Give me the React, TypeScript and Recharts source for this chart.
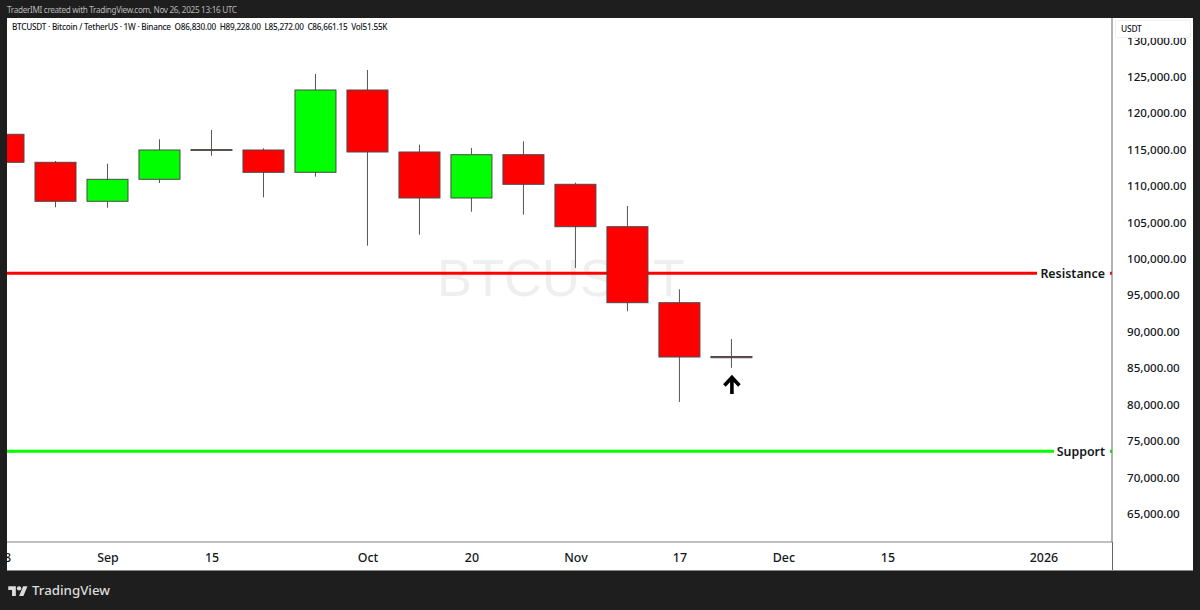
import React from 'react'
import {
  ComposedChart,
  Bar,
  XAxis,
  YAxis,
  ReferenceLine,
  ReferenceDot,
} from 'recharts'

// weekly candles, Aug 18 -> Nov 24
const opens = [117339, 113494, 108140, 111160, 115240, 115183, 112121, 123421, 114909, 108593, 114538, 110474, 104652, 94217, 86830]
const closes = [113494, 108140, 111160, 115183, 115130, 112121, 123421, 114909, 108593, 114538, 110474, 104652, 94217, 86762, 86661]
const highs = [117600, 113673, 113302, 116652, 117929, 115417, 125618, 126167, 115911, 115458, 116378, 110693, 107494, 96057, 89228]
const lows = [113200, 107316, 107261, 110652, 114401, 108689, 111517, 102044, 103554, 106712, 106300, 98982, 93037, 80584, 85272]

const xTicks = [0, 2, 4, 7, 9, 11, 13, 15, 17, 20]
const xLabels = ['18', 'Sep', '15', 'Oct', '20', 'Nov', '17', 'Dec', '15', '2026']
const yTicks = [65000, 70000, 75000, 80000, 85000, 90000, 95000, 100000, 105000, 110000, 115000, 120000, 125000, 130000]

const RESISTANCE = 98254
const SUPPORT = 73815
const ARROW_PRICE = 83000
const ARROW_INDEX = 14

const candles = opens.map((open, i) => ({
  index: i,
  open,
  close: closes[i],
  high: highs[i],
  low: lows[i],
  range: [lows[i], highs[i]],
}))

const FONT = '"Noto Sans", sans-serif'

function Candle(props: any) {
  const { x, y, width, height, payload } = props
  const { open, close, high, low } = payload
  const toY = (v: number) => y + ((high - v) / (high - low)) * height
  const up = close >= open
  const top = toY(Math.max(open, close))
  const bottom = toY(Math.min(open, close))
  const mid = x + width / 2
  return (
    <g>
      <line x1={mid} x2={mid} y1={y} y2={y + height} stroke="#555" strokeWidth={1} />
      <rect
        x={x}
        y={top}
        width={width}
        height={Math.max(bottom - top, 0.5)}
        fill={up ? '#00ff00' : '#ff0000'}
        stroke="#4a4a4a"
        strokeWidth={1}
      />
    </g>
  )
}

function PriceTick({ x, y, payload }: any) {
  return (
    <text x={x} y={y + 2.5} fontFamily={FONT} fontSize={11.6} fontWeight={500} fill="#131722">
      {payload.value.toLocaleString('en-US', { minimumFractionDigits: 2 })}
    </text>
  )
}

function lineTag(text: string, boxWidth: number) {
  return ({ viewBox }: any) => {
    const right = viewBox.x + viewBox.width
    return (
      <g>
        <rect x={right - boxWidth - 2} y={viewBox.y - 9} width={boxWidth} height={18} fill="#fff" />
        <text
          x={right - 7}
          y={viewBox.y + 5}
          textAnchor="end"
          fontFamily={FONT}
          fontSize={12.4}
          fontWeight={600}
          fill="#131722"
        >
          {text}
        </text>
      </g>
    )
  }
}

function UpArrow({ cx, cy }: any) {
  return (
    <path
      d={`M${cx} ${cy + 9.5}L${cx} ${cy - 7}M${cx - 7.5} ${cy + 1}L${cx} ${cy - 7}L${cx + 7.5} ${cy + 1}`}
      fill="none"
      stroke="#000"
      strokeWidth={3.6}
    />
  )
}

function Logo() {
  return (
    <svg width={20} height={13} viewBox="0 0 36 24" style={{ position: 'absolute', left: 8, top: 584 }}>
      <path d="M14 22H7V11H0V4h14v18zM28 22h-8l7.5-18h8L28 22z" fill="#dcdcdc" />
      <circle cx="20" cy="8" r="4" fill="#dcdcdc" />
    </svg>
  )
}

export default function App() {
  return (
    <div style={{ position: 'fixed', left: 0, top: 0, width: 1200, height: 610, background: '#1e1e1e', overflow: 'hidden' }}>
      <div style={{ position: 'absolute', left: 7, top: 3, fontFamily: FONT, fontSize: 8.2, letterSpacing: -0.33, lineHeight: '13px', color: '#b8b8b8', whiteSpace: 'nowrap' }}>
        TraderIMI created with TradingView.com, Nov 26, 2025 13:16 UTC
      </div>

      <div style={{ position: 'absolute', left: 7, top: 18, width: 1186, height: 552, background: '#fff', overflow: 'hidden', borderBottom: '1px solid #888', boxSizing: 'content-box' }}>
        {/* watermark sits under the transparent chart */}
        <div style={{ position: 'absolute', left: 430, top: 229, fontFamily: '"Liberation Sans", sans-serif', fontSize: 52.5, color: '#efefef', whiteSpace: 'nowrap' }}>
          BTCUSDT
        </div>

        {/* plot starts left of the panel so the first candle gets cut like on TV */}
        <div style={{ position: 'absolute', left: -29, top: 0 }}>
          <ComposedChart
            width={1215}
            height={552}
            data={candles}
            margin={{ top: 0, right: 0, bottom: 0, left: 0 }}
          >
            <XAxis
              dataKey="index"
              type="number"
              domain={[-0.5, 21.31]}
              allowDataOverflow
              ticks={xTicks}
              interval={0}
              tickFormatter={(v: number) => xLabels[xTicks.indexOf(v)]}
              tickLine={false}
              axisLine={{ stroke: '#808080' }}
              height={28}
              tickMargin={5}
              tick={{ fontFamily: FONT, fontSize: 12.4, fontWeight: 500, fill: '#131722' }}
            />
            <YAxis
              orientation="right"
              type="number"
              domain={[61361, 133307]}
              allowDataOverflow
              ticks={yTicks}
              interval={0}
              width={81}
              tickLine={false}
              axisLine={{ stroke: '#666' }}
              tickMargin={9}
              tick={<PriceTick />}
            />
            <ReferenceLine y={RESISTANCE} stroke="#ff0000" strokeWidth={3} zIndex={100} label={{ content: lineTag('Resistance', 73) }} />
            <ReferenceLine y={SUPPORT} stroke="#00ff00" strokeWidth={3} zIndex={100} label={{ content: lineTag('Support', 56) }} />
            <Bar dataKey="range" barSize={41} shape={<Candle />} isAnimationActive={false} />
            <ReferenceDot x={ARROW_INDEX} y={ARROW_PRICE} shape={<UpArrow />} />
          </ComposedChart>
        </div>

        <div style={{ position: 'absolute', left: 5, top: 3, fontFamily: FONT, fontSize: 8.2, letterSpacing: -0.24, lineHeight: '12px', fontWeight: 500, color: '#131722', whiteSpace: 'nowrap' }}>
          BTCUSDT · Bitcoin / TetherUS · 1W · Binance&nbsp; O86,830.00&nbsp; H89,228.00&nbsp; L85,272.00&nbsp; C86,661.15&nbsp; Vol51.55K
        </div>

        {/* currency box covers the top of the 130,000 label */}
        <div style={{ position: 'absolute', left: 1108, top: 2, width: 76, height: 18, background: '#fff', border: '1px solid #f0f0f0', borderRadius: 2, boxSizing: 'border-box', fontFamily: FONT, fontSize: 8.4, letterSpacing: -0.2, fontWeight: 500, lineHeight: '16px', paddingLeft: 5, color: '#131722' }}>
          USDT
        </div>
        {/* axis line carries on through the time scale row */}
        <div style={{ position: 'absolute', left: 1105, top: 524, width: 1, height: 28, background: '#666' }} />
      </div>

      <Logo />
      <div style={{ position: 'absolute', left: 32, top: 581, fontFamily: FONT, fontSize: 13.3, fontWeight: 500, color: '#dcdcdc' }}>
        TradingView
      </div>
    </div>
  )
}
